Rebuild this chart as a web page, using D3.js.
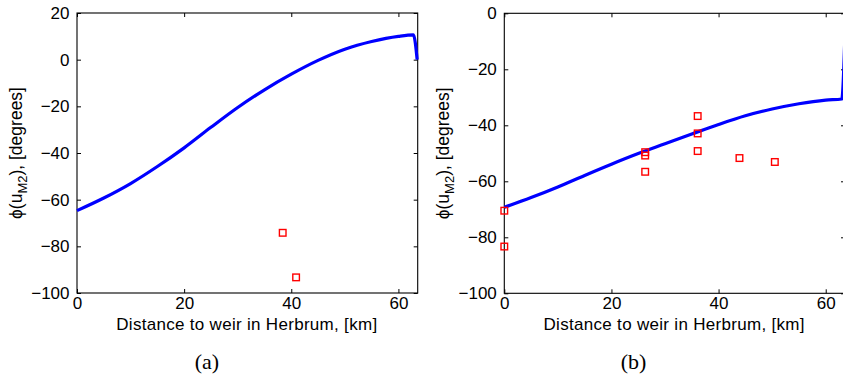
<!DOCTYPE html>
<html>
<head>
<meta charset="utf-8">
<script src="https://cdn.jsdelivr.net/npm/d3@7/dist/d3.min.js"></script>
<style>
  html, body { margin: 0; padding: 0; background: #fff; }
  svg { display: block; }
  .tick text { font-family: "Liberation Sans", Arial, sans-serif; font-size: 17px; fill: #000; }
  .tick line { stroke: #000; stroke-width: 1; }
</style>
</head>
<body>
<svg id="chart" width="843" height="377"></svg>
<script>
// Panel (a): model M2 velocity phase along the estuary, with two observations
const distA  = [0, 5, 10, 15, 20, 25, 30, 35, 40, 45, 50, 55, 60, 62.8, 63.5];
const phaseA = [-64.7, -59.3, -53.1, -45.8, -37.8, -29.0, -20.5, -12.9, -6.2, -0.3, 4.5, 7.8, 10.0, 10.6, 0];
const obsDistA  = [38.4, 40.9];
const obsPhaseA = [-74.2, -93.3];

// Panel (b): model M2 velocity phase with the full observation set
const distB  = [0, 5, 10, 15, 20, 25, 30, 35, 40, 45, 50, 55, 60, 63.0, 63.55];
const phaseB = [-69.3, -65.8, -62.0, -57.9, -53.9, -50.1, -46.6, -43.1, -39.7, -36.6, -34.2, -32.3, -31.0, -30.6, -10];
const obsDistB  = [0, 0, 26.3, 26.3, 26.3, 36.1, 36.1, 36.1, 43.9, 50.5];
const obsPhaseB = [-70.5, -83.3, -49.6, -50.8, -56.6, -36.7, -42.9, -49.2, -51.7, -53.1];

const xTicks  = [0, 20, 40, 60];
const yTicksA = [20, 0, -20, -40, -60, -80, -100];
const yTicksB = [0, -20, -40, -60, -80, -100];

const xTitle = "Distance to weir in Herbrum, [km]";

const svg = d3.select("#chart");

function panel(cfg) {
  const x = d3.scaleLinear().domain([0, 63.6]).range([cfg.left, cfg.left + 340.7]);
  const y = d3.scaleLinear().domain(cfg.yDomain).range([cfg.bottom, cfg.top]);
  const g = svg.append("g");

  const inner = 4;
  // bottom axis with labels
  const bx = g.append("g").attr("transform", `translate(0,${cfg.bottom})`)
    .call(d3.axisBottom(x).tickValues(xTicks).tickSizeInner(-inner).tickSizeOuter(0).tickPadding(4));
  // top ticks
  const tx = g.append("g").attr("transform", `translate(0,${cfg.top})`)
    .call(d3.axisTop(x).tickValues(xTicks).tickSizeInner(-inner).tickSizeOuter(0).tickFormat(""));
  // left axis with labels
  const ly = g.append("g").attr("transform", `translate(${cfg.left},0)`)
    .call(d3.axisLeft(y).tickValues(cfg.yTicks).tickSizeInner(-inner).tickSizeOuter(0).tickPadding(7.5));
  // right ticks
  const ry = g.append("g").attr("transform", `translate(${x(63.6)},0)`)
    .call(d3.axisRight(y).tickValues(cfg.yTicks).tickSizeInner(-inner).tickSizeOuter(0).tickFormat(""));
  [bx, tx, ly, ry].forEach(a => a.select(".domain").remove());
  bx.selectAll(".tick text").attr("dy", "0.7em");

  // axes box
  g.append("rect")
    .attr("x", x(0)).attr("y", cfg.top)
    .attr("width", x(63.6) - x(0)).attr("height", cfg.bottom - cfg.top)
    .attr("fill", "none").attr("stroke", "#000").attr("stroke-width", 1.1);

  // model curve
  const line = d3.line().x(d => x(d[0])).y(d => y(d[1])).curve(d3.curveMonotoneX);
  g.append("path")
    .datum(cfg.dist.map((d, i) => [d, cfg.phase[i]]))
    .attr("d", line)
    .attr("fill", "none").attr("stroke", "#0000ff").attr("stroke-width", 3.2)
    .attr("stroke-linejoin", "miter");

  // observations
  const s = 6.6;
  g.selectAll("rect.obs")
    .data(cfg.obsDist.map((d, i) => [d, cfg.obsPhase[i]]))
    .join("rect").attr("class", "obs")
    .attr("x", d => x(d[0]) - s / 2).attr("y", d => y(d[1]) - s / 2)
    .attr("width", s).attr("height", s)
    .attr("fill", "none").attr("stroke", "#ff0000").attr("stroke-width", 1.4);

  // x axis title
  g.append("text")
    .attr("x", (x(0) + x(63.6)) / 2 - 0.5).attr("y", 329.5)
    .attr("text-anchor", "middle")
    .attr("font-family", "Liberation Sans, Arial, sans-serif").attr("font-size", 17)
    .attr("letter-spacing", 0.3)
    .text(xTitle);

  // y axis title: ϕ(u_M2), [degrees]
  const yt = g.append("text")
    .attr("transform", `translate(${cfg.left - 55},${(cfg.top + cfg.bottom) / 2}) rotate(-90)`)
    .attr("text-anchor", "middle")
    .attr("font-family", "Liberation Sans, Arial, sans-serif").attr("font-size", 17.5);
  yt.append("tspan").text("ϕ(u");
  yt.append("tspan").attr("font-size", 13).attr("dy", 4.5).text("M2");
  yt.append("tspan").attr("dy", -4.5).text("), [degrees]");

  // panel caption
  g.append("text")
    .attr("x", cfg.captionX).attr("y", 369)
    .attr("text-anchor", "middle")
    .attr("font-family", "Liberation Serif, Times New Roman, serif").attr("font-size", 22)
    .text(cfg.caption);
}

panel({
  left: 77, top: 13, bottom: 293, yDomain: [-100, 20], yTicks: yTicksA,
  dist: distA, phase: phaseA, obsDist: obsDistA, obsPhase: obsPhaseA,
  caption: "(a)", captionX: 207
});
panel({
  left: 504.3, top: 13.3, bottom: 293.3, yDomain: [-100, 0], yTicks: yTicksB,
  dist: distB, phase: phaseB, obsDist: obsDistB, obsPhase: obsPhaseB,
  caption: "(b)", captionX: 633.5
});
</script>
</body>
</html>
